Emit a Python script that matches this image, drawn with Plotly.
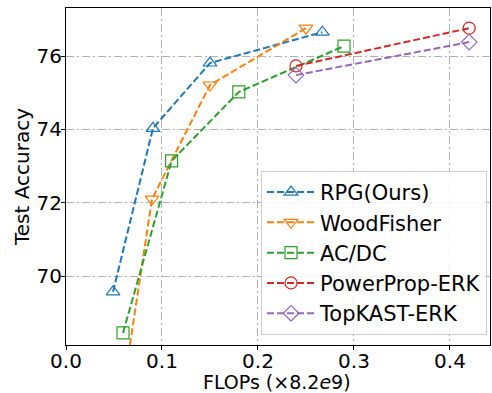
import plotly.graph_objects as go

names = ["RPG(Ours)", "WoodFisher", "AC/DC", "PowerProp-ERK", "TopKAST-ERK"]
rpg_x = [0.049, 0.0906, 0.15, 0.267]
rpg_y = [69.57, 74.03, 75.81, 76.65]
wf_x = [0.065, 0.0896, 0.15, 0.25]
wf_y = [67.85, 72.1, 75.21, 76.76]
acdc_x = [0.0594, 0.110, 0.180, 0.2896]
acdc_y = [68.45, 73.14, 75.02, 76.27]
pp_x = [0.2396, 0.42]
pp_y = [75.73, 76.76]
tk_x = [0.2396, 0.42]
tk_y = [75.48, 76.38]
x_ticks = [0.0, 0.1, 0.2, 0.3, 0.4]
y_ticks = [70, 72, 74, 76]

colors = ["#1f77b4", "#ff7f0e", "#2ca02c", "#d62728", "#9467bd"]
symbols = ["triangle-up-open", "triangle-down-open", "square-open", "circle-open", "diamond-open"]
xs = [rpg_x, wf_x, acdc_x, pp_x, tk_x]
ys = [rpg_y, wf_y, acdc_y, pp_y, tk_y]

fig = go.Figure()
for n, x, y, c, s in zip(names, xs, ys, colors, symbols):
    fig.add_trace(go.Scatter(
        x=x, y=y, name=n, mode="lines+markers", legendgroup=n,
        line=dict(color=c, width=2, dash="7px,3px"),
        marker=dict(symbol=s, size=12, color=c, line=dict(color=c, width=1.2)),
        cliponaxis=True,
    ))

font = "DejaVu Sans"
L, R, T, B, W, H = 66, 2, 8, 48, 492, 393
pw, ph = W - L - R, H - T - B

fig.update_layout(
    width=W, height=H,
    margin=dict(l=L, r=R, t=T, b=B),
    paper_bgcolor="white", plot_bgcolor="white",
    font=dict(family=font, size=20, color="black"),
    showlegend=True,
    legend=dict(
        x=0.993, y=0.03, xanchor="right", yanchor="bottom",
        bgcolor="rgba(255,255,255,0.85)", bordercolor="#cccccc", borderwidth=1,
        font=dict(family=font, size=21),
        itemwidth=48, tracegroupgap=0, traceorder="grouped",
    ),
    xaxis=dict(
        range=[0, 0.4417], tickvals=x_ticks, ticktext=[f"{v:.1f}" for v in x_ticks],
        showline=True, linecolor="black", linewidth=1.2, mirror=True,
        ticks="outside", ticklen=4, tickcolor="black", ticklabelstandoff=-6,
        showgrid=True, gridcolor="#b0b0b0", gridwidth=1.3, griddash="8px,3px,2px,3px",
        zeroline=False, automargin=False,
        tickfont=dict(size=20),
    ),
    yaxis=dict(
        range=[68.12, 77.31], tickvals=y_ticks,
        showline=True, linecolor="black", linewidth=1.2, mirror=True,
        ticks="outside", ticklen=4, tickcolor="black", ticklabelstandoff=-5,
        showgrid=True, gridcolor="#b0b0b0", gridwidth=1.3, griddash="8px,3px,2px,3px",
        zeroline=False, automargin=False,
        tickfont=dict(size=20),
    ),
    annotations=[
        dict(text="FLOPs (×8.2<i>e</i>9)", x=(277 - L) / pw, y=(H - B - 381.5) / ph,
             xref="paper", yref="paper", showarrow=False, font=dict(size=19),
             xanchor="center", yanchor="middle"),
        dict(text="Test Accuracy", x=(22 - L) / pw, y=(H - B - 177) / ph,
             xref="paper", yref="paper", showarrow=False, font=dict(size=20),
             textangle=-90, xanchor="center", yanchor="middle"),
    ],
)
fig.write_html("out.html", config={"displayModeBar": False},
               post_script="document.body.style.margin='0';document.body.style.padding='0';")
